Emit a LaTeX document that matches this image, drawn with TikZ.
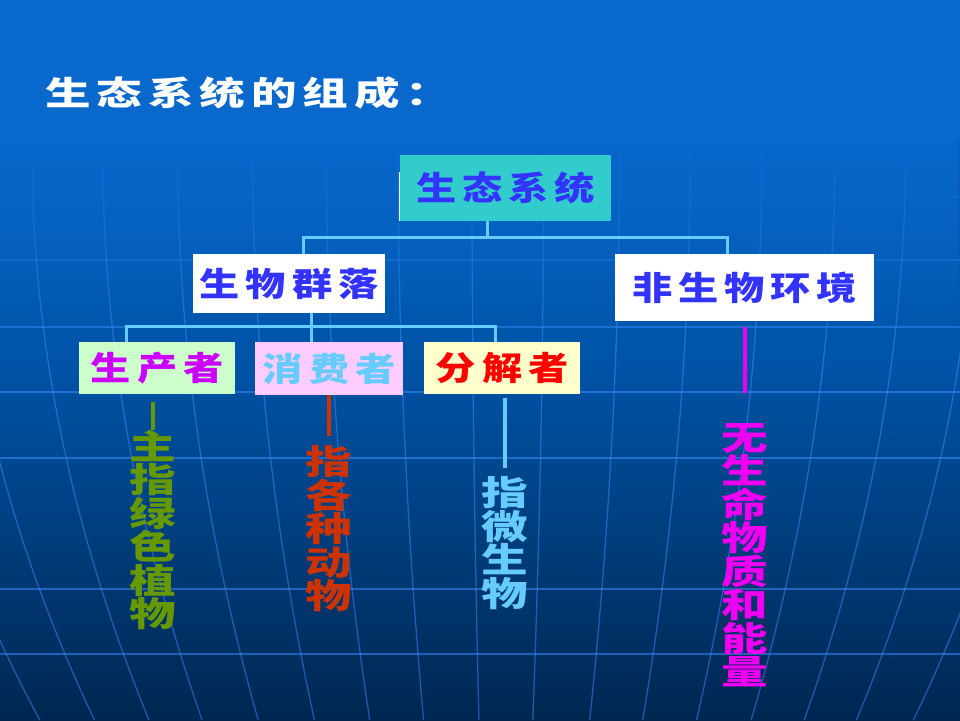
\documentclass[tikz,border=0pt]{standalone}
\usepackage{fontspec}
\usetikzlibrary{fadings}
\newfontfamily\titlefont{Noto Sans CJK SC}[FakeStretch=1.38, LetterSpace=18]
\newfontfamily\boxfont{Noto Sans CJK SC}[FakeStretch=1.22, LetterSpace=18]
\newfontfamily\vfont{Noto Sans CJK SC}[FakeStretch=1.37]
\newcommand\vtextfont{\vfont\bfseries\fontsize{34}{33.5}\selectfont\setlength{\lineskiplimit}{-100pt}}
\definecolor{treeblue}{HTML}{66CCFF}
\definecolor{ecofill}{HTML}{33CCCC}
\definecolor{labelblue}{HTML}{3333FF}
\definecolor{prodfill}{HTML}{CCFFCC}
\definecolor{prodtext}{HTML}{CC00FF}
\definecolor{consfill}{HTML}{FFCCFF}
\definecolor{decfill}{HTML}{FFFFCC}
\definecolor{plantgreen}{HTML}{669900}
\definecolor{animalred}{HTML}{CC3300}
\definecolor{abiomag}{HTML}{F000F0}
\definecolor{gridline}{HTML}{3A8CFF}
\definecolor{bgtop}{HTML}{0868CC}
\definecolor{bgmid}{HTML}{0054A8}
\definecolor{bgbot}{HTML}{002650}
\tikzfading[name=gridfade, top color=transparent!100, middle color=transparent!40, bottom color=transparent!0]
\tikzset{
  box/.style={anchor=north west, inner sep=0pt,
    font=\boxfont\bfseries\fontsize{33}{40}\selectfont},
  tree/.style={treeblue, line width=3pt, line join=miter},
  vtext/.style={align=center, inner sep=0pt, font=\vtextfont},
  gridl/.style={gridline, line width=1.3pt},
  desc/.style={line width=4pt}
}
\begin{document}
\begin{tikzpicture}[x=1pt,y=-1pt]
\useasboundingbox (0,0) rectangle (960,720);
% background
\fill[top color=bgtop, bottom color=bgbot, middle color=bgmid] (0,0) rectangle (960,720);
% grid
\foreach \yy/\op in {197/0.2,260/0.35,327/0.5,392/0.55,458/0.55,589/0.55,654/0.55}
  \draw[gridl, opacity=\op] (0,\yy) -- (960,\yy);
\begin{scope}[transparency group, opacity=0.5]
\foreach \xo in {-90,-20,50,118,190,262,333,402,473,542,615,683,752,822,890,957,1030,1100}
  \draw[gridl] plot[domain=150:720, samples=25, smooth, variable=\t]
    ({500+(\xo-500)*(1.04-0.26*((\t-150)/570)^2)}, \t);
\end{scope}
\fill[bgtop, path fading=south, opacity=0.9] (0,140) rectangle (960,330);
\fill[bgtop] (0,0) rectangle (960,140);
% title
\node[anchor=west, text=white, inner sep=0pt,
  font=\titlefont\bfseries\fontsize{33}{40}\selectfont] (title) at (45,93) {生态系统的组成：};
% boxes
\node[box, fill=ecofill, text=labelblue, minimum width=211pt, minimum height=66pt] (eco) at (400,155) {生态系统};
\node[box, fill=white, text=labelblue, minimum width=192pt, minimum height=59pt] (comm) at (193,254) {生物群落};
\node[box, fill=white, text=labelblue, minimum width=259pt, minimum height=67pt] (abio) at (615,254) {非生物环境};
\node[box, fill=prodfill, text=prodtext, minimum width=156pt, minimum height=52pt] (prod) at (79,342) {生产者};
\node[box, fill=consfill, text=treeblue, minimum width=148pt, minimum height=53pt] (cons) at (255,342) {消费者};
\node[box, fill=decfill, text=red, minimum width=156pt, minimum height=52pt] (dec) at (424,342) {分解者};
\draw[white, line width=1pt] ([xshift=-0.5pt,yshift=-17pt]eco.north west) -- ([xshift=-0.5pt]eco.south west);
% tree connectors
\draw[tree] ([xshift=-18.5pt]eco.south) -- ++(0,16) coordinate (j1);
\draw[tree] ([xshift=14pt]comm.north) |- (j1) -| ([xshift=-17.5pt]abio.north);
\draw[tree] ([xshift=22pt]comm.south) -- ++(0,13) coordinate (j2);
\draw[tree] ([xshift=-31pt]prod.north) |- (j2) -| ([xshift=-7pt]dec.north);
\draw[tree] (j2) -- (cons.north -| j2);
% descriptions
\node[vtext, text=plantgreen] (ptxt) at (153,530) {主\\指\\绿\\色\\植\\物};
\node[vtext, text=animalred] (atxt) at (329,529) {指\\各\\种\\动\\物};
\node[vtext, text=treeblue] (mtxt) at (505,543) {指\\微\\生\\物};
\node[vtext, text=abiomag] (ntxt) at (745,555) {无\\生\\命\\物\\质\\和\\能\\量};
\draw[desc, plantgreen] ([yshift=-8pt]prod.south -| ptxt.north) -- (ptxt.north);
\draw[desc, animalred] (cons.south -| atxt.north) -- ([yshift=10pt]atxt.north);
\draw[desc, treeblue] ([yshift=-4pt]dec.south -| mtxt.north) -- ([yshift=8pt]mtxt.north);
\draw[desc, abiomag] ([yshift=-6pt]abio.south -| ntxt.north) -- ([yshift=30pt]ntxt.north);
\end{tikzpicture}
\end{document}
